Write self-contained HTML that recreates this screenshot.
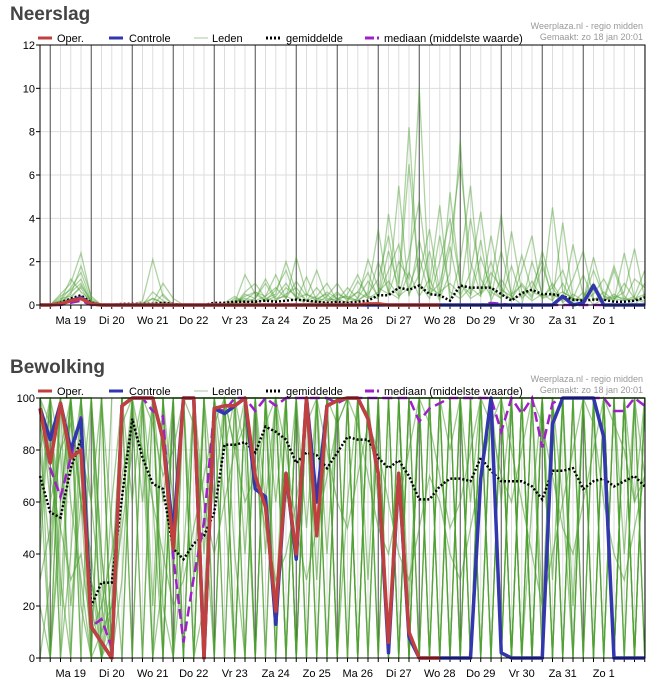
<!DOCTYPE html>
<html><head><meta charset="utf-8">
<style>
body{margin:0;background:#fff;width:649px;height:684px;overflow:hidden;font-family:"Liberation Sans",sans-serif;}
svg text{font-family:"Liberation Sans",sans-serif;}
</style></head>
<body>
<svg id="c" width="649" height="684" xmlns="http://www.w3.org/2000/svg"></svg>
<script>
const dayLabels=["Ma 19","Di 20","Wo 21","Do 22","Vr 23","Za 24","Zo 25","Ma 26","Di 27","Wo 28","Do 29","Vr 30","Za 31","Zo 1"];
const rainTicks=[0,2,4,6,8,10,12];
const cloudTicks=[0,20,40,60,80,100];
// Neerslag
const rainOper=[0,0,0.05,0.2,0.3,0.05,0,0,0,0,0,0,0,0,0,0,0,0,0,0,0,0,0,0,0,0,0,0,0,0,0,0,0.05,0.05,0,0,0,0,0,0];
const rainCtrl=[0,0,0.05,0.2,0.35,0.05,0,0,0,0,0,0,0,0,0,0,0,0,0,0,0,0,0,0,0,0,0,0,0,0,0,0,0,0,0,0,0,0,0,0,0,0,0,0,0,0,0,0,0,0,0,0.4,0,0.1,0.9,0,0,0,0,0];
const rainMean=[0,0,0.1,0.3,0.45,0.1,0,0,0.05,0.05,0.05,0.05,0.1,0.05,0,0,0,0.1,0.1,0.15,0.15,0.15,0.2,0.15,0.2,0.25,0.2,0.15,0.1,0.15,0.1,0.15,0.2,0.45,0.45,0.8,0.7,0.9,0.5,0.45,0.2,0.9,0.8,0.8,0.8,0.5,0.2,0.55,0.7,0.5,0.5,0.4,0.25,0.2,0.25,0.25,0.15,0.15,0.2,0.35];
const rainMedian=[0,0,0,0.1,0.2,0,0,0,0,0,0,0,0,0,0,0,0,0,0,0,0,0,0,0,0,0,0,0,0,0,0,0,0,0,0,0,0,0,0,0,0,0,0,0,0.1,0.05,0,0,0,0,0,0,0,0,0,0,0,0,0,0];
const rainMembers=[
[0,0,0.5,1,2.4,0.3,0,0,0,0,0,0,0,0,0,0,0,0,0,0,0.5,0.3,1,0.2,0.8,0.4,0,0.3,0.5,0,0.2,0.6,1.5,0.3,2.5,0.8,6.5,1,0.3,2,4,1,0.5,3,0.2,1.2,0.4,0,2,0.5,0.2,1,0.1,0.6,0,0.3,1.8,0.4,0,0.5],
[0,0,0.2,0.8,1.5,0.2,0,0,0,0,0,0.1,1,0.3,0,0,0,0,0,0.1,1.4,0.5,0.2,0.7,1.6,0.3,0.2,0.1,0.4,1,0.3,0.2,0.6,3.5,0.5,2,1.2,10,0.5,1,3,6.5,2,0.5,1,4.2,0.3,1,0.4,2.5,0.8,0.1,0.5,0.2,2.2,0.4,0.2,1,0.3,0.2],
[0,0,0.1,0.6,1,0.1,0,0,0,0,0.2,2.1,0.4,0,0,0,0,0,0,0.3,0.2,0.6,0.4,1.4,0.3,2.2,0.5,0.3,0.2,0.6,0.2,1.1,0.4,0.3,4.2,1,8.2,0.6,2.5,0.3,1.5,7.6,0.4,2.2,0.8,0.3,3.4,0.6,0.2,0.5,4.5,0.6,0.3,1.4,0.2,0.6,0.2,2.4,0.3,0.1],
[0,0,0.3,0.4,0.8,0,0,0,0,0,0.1,0.3,0.1,0,0,0,0,0,0.1,0.4,0.1,0.3,1.2,0.3,0.4,0.2,1.3,0.2,0.6,0.3,0.1,0.3,2.1,0.8,0.5,5.5,0.4,3,1,4.6,0.2,2,5.5,0.5,1.5,0.8,0.2,1.6,3.2,0.3,1,0.2,2.8,0.4,1,0.2,0.5,0.2,1.2,0.8],
[0,0,0.2,1.2,0.6,0.2,0,0,0,0,0,0,0.5,0,0,0,0,0,0,0,0.6,1,0.3,0.5,2,0.6,0.2,0.8,0.2,0.3,0.4,0.2,0.5,1.2,3.2,0.4,2.3,4.8,0.8,0.5,2.7,0.4,1.5,4.3,0.6,0.3,1.8,0.3,0.8,2.1,0.2,3.8,0.3,0.2,1.6,0.4,0.3,0.6,2.6,0.3],
[0,0,0.1,0.5,1.8,0.4,0,0,0,0,0,0.6,0.2,0,0,0,0,0,0,0.2,0.3,0.2,0.4,0.8,0.3,1.1,0.4,1.6,0.3,0.2,0.8,0.3,1.1,0.4,1.6,2.8,0.5,1.4,3.5,0.6,1,0.5,4,1.2,0.4,2.5,0.5,0.9,0.3,1.8,0.4,0.6,0.3,0.2,0.5,1.2,0.3,0.2,0.4,1.6],
[0,0,0.4,0.7,1.2,0.1,0,0,0,0,0,0,0,0,0,0,0,0,0,0.1,0.4,0.6,0.2,0.4,1,0.3,0.5,0.2,0.1,0.5,0.3,0.6,0.3,2,0.6,0.3,1.5,0.4,1.2,0.2,5.2,1,0.3,0.6,2,0.5,0.3,0.4,1.1,0.3,0.5,0.2,1.2,2.5,0.3,0.2,1.6,0.2,0.3,0.5],
[0,0,0.2,0.3,0.9,0.2,0,0,0,0,0,0.3,0.1,0,0,0,0,0,0,0,0.2,0.1,0.3,0.2,0.5,0.8,0.2,0.4,1,0.2,0.5,1.4,0.3,0.6,1.1,0.4,0.8,2.2,0.5,3.2,0.6,0.3,0.8,0.4,3.2,0.7,0.4,2.3,0.6,0.4,0.8,1.6,0.2,0.3,0.7,0.2,0.4,0.3,0.2,1]
];
// Bewolking
const cloudOper=[96,75,98,77,80,12,6,0,97,100,100,100,84,42,100,100,0,96,97,97,100,70,58,18,71,40,100,47,97,99,100,100,92,71,6,71,10,0,0,0];
const cloudCtrl=[96,84,98,80,92,12,6,0,97,100,100,100,84,48,100,100,0,96,94,97,100,65,62,13,71,38,100,60,97,99,100,100,92,71,2,71,8,0,0,0,0,0,0,69,100,2,0,0,0,0,90,100,100,100,100,85,0,0,0,0];
const cloudMean=[70,56,54,73,84,20,29,29,62,92,77,67,65,42,38,44,47,56,82,82,83,79,89,87,84,75,79,78,73,79,85,84,84,77,73,76,70,61,61,66,69,69,68,77,72,68,68,68,66,61,72,72,73,65,68,69,66,68,70,66];
const cloudMedian=[96,73,62,77,93,12,15,4,97,100,100,95,93,39,6,31,52,96,95,100,100,95,100,97,100,100,100,100,100,98,100,100,100,100,100,100,100,91,96,98,100,100,100,100,100,87,100,94,100,81,98,100,100,100,100,100,95,95,100,97];
const cloudMembers=[
[100,90,60,100,20,0,10,100,100,100,60,100,0,100,100,30,100,100,100,80,100,100,40,100,100,0,100,100,100,90,100,100,100,60,0,100,100,0,100,100,80,100,100,0,100,100,100,0,60,100,100,100,20,100,100,0,100,100,100,70],
[80,40,100,70,100,30,0,0,90,100,100,20,100,60,0,0,100,100,80,100,100,100,100,60,100,100,100,30,100,100,100,0,100,100,100,100,20,100,100,100,0,100,60,100,100,0,100,100,100,100,30,100,100,100,0,100,100,40,100,100],
[20,0,50,100,100,100,40,0,100,100,80,0,30,100,100,100,0,100,100,100,40,100,100,100,0,100,100,100,100,0,60,100,100,100,0,0,100,100,0,100,100,100,100,100,0,100,0,100,100,20,100,100,100,0,100,100,0,100,60,100],
[100,100,100,0,80,60,100,50,0,100,100,100,100,0,40,100,100,60,100,100,100,0,100,100,100,100,50,100,0,100,100,100,30,100,100,100,100,0,100,100,100,0,100,100,100,60,100,0,100,100,100,0,100,100,100,100,100,0,100,100],
[60,100,0,40,100,0,0,30,100,60,100,100,60,100,100,0,20,100,100,40,0,100,100,20,100,100,0,100,100,100,0,100,100,0,100,100,100,100,100,0,100,100,0,100,0,100,100,100,0,100,100,60,0,100,100,100,0,100,100,0],
[100,60,80,100,60,0,0,0,60,100,100,100,20,0,100,100,100,100,0,100,100,100,60,100,0,100,100,100,40,100,100,0,100,100,100,0,100,100,100,100,0,100,100,100,100,0,100,100,100,0,100,100,100,100,0,100,100,100,0,100],
[0,30,100,100,100,100,40,0,100,100,0,100,100,100,0,0,100,0,100,100,100,100,0,100,100,100,100,0,100,100,100,100,0,100,100,0,100,100,100,0,100,100,100,0,100,100,100,0,100,100,0,100,100,100,100,0,100,100,100,100],
[100,100,20,100,100,60,20,0,30,100,100,0,100,100,100,100,40,100,100,100,0,100,100,100,100,0,100,100,100,0,100,100,100,100,100,100,0,100,100,100,100,100,0,100,100,100,0,100,100,100,100,0,100,100,0,100,100,0,100,100],
[40,100,100,60,30,0,0,0,100,0,100,100,100,100,100,100,100,100,60,0,100,100,100,0,100,0,100,100,100,100,0,100,100,100,100,100,100,100,0,100,100,100,100,100,100,0,100,100,0,100,100,100,0,100,100,100,100,100,0,100],
[100,80,100,100,100,20,0,10,100,100,100,60,0,100,0,100,100,100,100,100,80,0,100,100,100,100,100,0,100,100,100,100,100,0,100,100,0,100,100,100,100,0,100,100,0,100,100,100,100,0,100,100,100,100,100,0,100,100,100,0],
[70,0,60,100,100,100,100,0,0,100,100,100,100,30,100,100,0,100,100,0,100,100,100,100,60,100,100,100,0,100,100,100,100,100,100,0,100,0,100,100,0,100,100,100,100,100,100,0,100,100,100,100,0,100,100,0,100,100,100,100],
[100,100,80,20,60,100,30,0,100,100,100,100,100,100,100,0,100,100,100,100,100,100,0,100,100,0,100,100,100,100,100,0,100,100,0,100,100,100,100,100,100,100,0,100,100,100,100,100,0,100,100,0,100,100,100,100,0,100,100,100],
[90,70,50,30,40,10,20,40,70,90,80,60,40,20,30,50,70,90,100,80,60,70,90,100,80,50,30,50,70,90,100,90,70,50,40,60,80,100,90,70,50,60,80,100,90,70,60,80,100,90,70,50,40,60,80,100,90,80,60,70],
[30,50,80,90,60,30,10,20,50,80,100,90,70,80,100,90,60,40,60,80,90,70,50,30,40,60,90,100,80,60,50,70,90,80,60,40,30,50,70,60,40,30,50,70,90,100,80,60,40,20,40,60,80,100,90,60,40,30,50,70],
[0,0,100,100,0,100,100,0,100,100,100,100,0,100,100,100,0,100,100,100,100,0,100,0,100,100,100,100,0,100,100,100,0,100,100,100,0,100,100,100,100,0,100,100,100,0,100,100,100,100,0,100,100,0,100,100,100,100,0,100],
[100,100,100,100,0,0,100,100,100,0,100,100,100,100,0,100,100,100,0,100,100,0,100,100,100,100,0,100,100,100,100,0,100,100,100,100,0,100,100,0,100,100,100,100,0,100,100,0,100,100,100,100,0,100,100,100,0,100,100,100],
[50,100,30,0,100,100,0,60,100,100,0,100,100,0,100,100,100,0,100,100,0,100,100,100,0,100,100,0,100,100,100,100,0,100,0,100,100,100,0,100,100,0,100,100,100,100,0,100,0,100,100,100,100,0,100,100,100,0,100,0],
[100,0,100,100,100,0,100,0,100,100,100,0,100,100,100,0,100,100,100,0,100,100,100,100,0,100,0,100,100,0,100,100,100,0,100,100,0,100,100,100,0,100,100,0,100,100,100,100,0,100,0,100,100,100,0,100,100,100,0,100],
[80,100,100,100,60,40,0,20,100,100,100,100,0,100,100,100,60,0,100,100,100,100,100,0,100,100,100,100,100,0,100,0,100,100,100,100,0,100,0,100,100,100,100,0,100,100,0,100,100,100,100,0,100,100,100,100,0,100,100,100],
[100,100,0,100,100,100,0,0,100,100,100,100,100,0,0,100,100,100,100,0,100,100,100,100,100,0,100,100,100,100,0,100,100,100,100,0,100,100,100,0,100,100,0,100,100,100,0,100,100,100,0,100,100,100,100,100,0,100,0,100]
];

const NS="http://www.w3.org/2000/svg";
const svg=document.getElementById('c');
function mk(tag,attrs,parent){const e=document.createElementNS(NS,tag);for(const k in attrs)e.setAttribute(k,attrs[k]);(parent||svg).appendChild(e);return e;}
const X0=40,X1=645,STEP=10.25;
function xs(i){return X0+i*STEP;}

function panel(top,bottom,ymax,ticks,title,members,oper,ctrl,mean,median,key,mop){
  const ys=v=>bottom-(v/ymax)*(bottom-top);
  const g=mk('g',{});
  
  
  const t=mk('text',{x:10,y:top-25,'font-size':19,'font-weight':'bold',fill:'#444'},g);
  t.textContent=title;
  
  
  for(let i=0;i<60;i++){mk('line',{x1:xs(i),x2:xs(i),y1:top,y2:bottom,stroke:'#ddd','stroke-width':1},g);}
  ticks.forEach(v=>{
    mk('line',{x1:X0,x2:X1,y1:ys(v),y2:ys(v),stroke:'#ddd','stroke-width':1},g);
    mk('line',{x1:X0-4,x2:X0,y1:ys(v),y2:ys(v),stroke:'#000'},g);
    const tl=mk('text',{x:X0-5,y:ys(v)+4,'font-size':11,'text-anchor':'end',fill:'#000'},g);
    tl.textContent=v;
    
    
  });
  dayLabels.forEach((d,k)=>{
    const x=xs(1+4*k);
    mk('line',{x1:x,x2:x,y1:top,y2:bottom,stroke:'#555','stroke-width':1},g);
    const dl=mk('text',{x:x+20.5,y:bottom+19,'font-size':11,'text-anchor':'middle',fill:'#000'},g);
    dl.textContent=d;
    
    
  });
  for(let i=0;i<60;i++){mk('line',{x1:xs(i),x2:xs(i),y1:bottom,y2:bottom+4,stroke:'#000'},g);}
  const line=(arr,attrs,name)=>{
    const p=mk('polyline',Object.assign({points:arr.map((v,i)=>xs(i)+','+ys(v)).join(' '),fill:'none'},attrs),g);
    
    
  };
  members.forEach(m=>line(m,{stroke:'#4a9e2e','stroke-opacity':mop,'stroke-width':1.3},'ensemble-member-line'));
  line(mean,{stroke:'#000','stroke-width':2.5,'stroke-dasharray':'2,2'},'mean-line');
  line(median,{stroke:'#a020c8','stroke-width':2.5,'stroke-dasharray':'10,5'},'median-line');
  line(ctrl,{stroke:'#3237ad','stroke-width':3.5,'stroke-linejoin':'round'},'control-line');
  line(oper,{stroke:'#c0403f','stroke-width':3.5,'stroke-linejoin':'round'},'operational-line');
  mk('rect',{x:X0,y:top,width:X1-X0,height:bottom-top,fill:'none',stroke:'#000','stroke-width':1},g);
  const ly=top-7;
  const leg=(x,attrs,label,tx)=>{
    const lg=mk('g',{},g);
    
    
    mk('line',Object.assign({x1:x,x2:x+14,y1:ly,y2:ly},attrs),lg);
    const tt=mk('text',{x:tx,y:ly+4,'font-size':11,fill:'#000'},lg);tt.textContent=label;
  };
  leg(38,{stroke:'#c0403f','stroke-width':3},'Oper.',57);
  leg(109,{stroke:'#3237ad','stroke-width':3},'Controle',129);
  leg(194,{stroke:'#a8c8a0','stroke-width':1},'Leden',212);
  leg(266,{stroke:'#000','stroke-width':3,'stroke-dasharray':'2,2'},'gemiddelde',286);
  leg(365,{stroke:'#a020c8','stroke-width':3,'stroke-dasharray':'9,3'},'mediaan (middelste waarde)',384);
  const c1=mk('text',{x:643,y:top-16,'font-size':9,'text-anchor':'end',fill:'#999'},g);c1.textContent='Weerplaza.nl - regio midden';
  
  
  const c2=mk('text',{x:643,y:top-5,'font-size':9,'text-anchor':'end',fill:'#999'},g);c2.textContent='Gemaakt: zo 18 jan 20:01';
  
  
}
panel(45,305,12,rainTicks,'Neerslag',rainMembers,rainOper,rainCtrl,rainMean,rainMedian,'precipitation',0.45);
panel(398,658,100,cloudTicks,'Bewolking',cloudMembers,cloudOper,cloudCtrl,cloudMean,cloudMedian,'cloud-cover',0.55);
</script>
</body></html>
